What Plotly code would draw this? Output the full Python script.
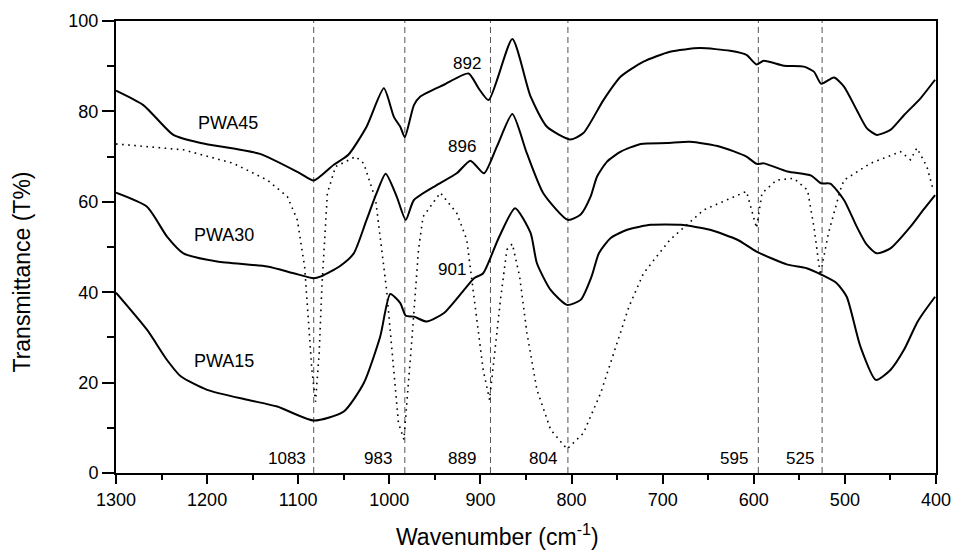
import plotly.graph_objects as go

# ---------------- data ----------------
pwa45_x = [1300,1270,1237,1207,1142,1098,1083,1061,1045,1025,1006,995,988,983,973,966,940,913,902,891,
           865,845,827,801,787,765,746,721,692,659,626,608,597,589,567,545,534,526,512,501,487,476,465,
           450,435,417,401]
pwa45_y = [84.6,81.4,74.8,73.0,70.6,66.3,64.7,68.2,70.4,76.6,85.1,78.8,76.6,74.3,81.4,83.3,85.9,88.4,85.1,82.5,
           96.0,83.3,76.6,73.8,75.2,82.5,87.7,91.0,93.2,94.0,93.4,92.5,90.4,91.2,90.1,89.9,88.8,86.1,87.5,85.5,
           80.3,76.3,74.8,75.9,79.2,82.9,87.0]

pwa30_x = [1300,1266,1244,1226,1189,1134,1105,1083,1075,1054,1039,1025,1014,1004,992,982,973,948,926,911,896,882,
           865,849,831,804,790,779,772,761,746,724,695,670,637,608,597,589,563,537,526,516,501,487,476,465,450,
           428,414,401]
pwa30_y = [62.0,58.9,52.3,48.6,46.8,45.7,44.2,43.1,43.5,45.8,48.6,56.0,61.9,66.2,61.2,56.0,60.4,63.7,66.3,69.1,66.3,72.2,
           79.4,70.7,61.9,56.0,57.2,61.2,65.6,68.9,71.1,72.8,73.0,73.3,72.2,70.0,68.4,68.5,66.7,65.8,64.1,64.0,60.4,
           54.5,50.5,48.6,49.7,54.5,58.2,61.5]

pwa15_x = [1300,1266,1244,1229,1200,1156,1123,1083,1050,1028,1010,999,988,982,973,959,940,918,907,897,
           880,862,845,838,823,805,790,778,770,757,739,713,680,648,618,597,563,542,525,509,498,483,466,450,
           435,421,414,401]
pwa15_y = [39.9,31.7,25.0,21.4,18.4,16.2,14.7,11.6,13.6,19.9,30.2,39.6,37.6,34.8,34.6,33.5,35.4,40.5,43.1,44.2,
           52.0,58.6,53.1,46.4,40.5,37.2,38.3,43.5,48.6,52.0,53.8,54.9,54.9,53.8,51.6,49.0,46.1,45.3,43.8,42.0,
           39.0,28.0,20.6,22.8,27.3,33.2,35.4,39.0]

ref_x = [1300,1226,1171,1134,1112,1101,1093,1090,1085,1081,1077,1074,1068,1059,1037,1028,1015,1003,995,990,
         984,979,975,968,963,944,926,915,904,897,890,884,878,871,865,857,849,838,823,805,787,768,750,737,
         721,692,655,608,597,591,575,556,541,534,527,518,505,501,472,439,428,421,410,403]
ref_y = [72.8,71.5,68.5,64.8,61.2,56.0,45.7,37.6,22.8,15.8,26.5,41.3,61.9,67.8,70.0,68.5,60.4,40.5,22.8,11.1,
         7.4,19.1,30.2,49.4,56.7,62.0,57.5,51.6,34.6,22.8,16.2,27.3,38.4,49.4,50.7,43.5,31.0,18.4,9.6,5.3,
         8.8,17.7,28.7,36.8,44.2,51.6,58.2,62.3,54.2,61.9,64.8,65.2,62.6,54.5,43.8,53.1,62.6,64.8,68.5,71.1,
         69.3,71.9,67.8,62.6]

band_positions = [1083, 983, 889, 804, 595, 525]
band_labels = ["1083", "983", "889", "804", "595", "525"]
band_label_x = [1112, 1012, 920, 831, 622, 549]

series_names = ["PWA45", "PWA30", "PWA15"]
series_label_x = [1177, 1182, 1182]
series_label_y = [77.4, 52.7, 24.7]

peak_labels = ["892", "896", "901"]
peak_label_x = [915, 920, 931]
peak_label_y = [90.6, 72.2, 45.0]

x_ticks = [1300, 1200, 1100, 1000, 900, 800, 700, 600, 500, 400]
y_ticks = [0, 20, 40, 60, 80, 100]

x_title = "Wavenumber (cm<sup>-1</sup>)"
y_title = "Transmittance (T%)"

# ---------------- figure ----------------
FONT = "Liberation Sans, Arial, sans-serif"
fig = go.Figure()

for bx in band_positions:
    fig.add_trace(go.Scatter(x=[bx, bx], y=[0, 100], mode="lines",
                             line=dict(color="#555555", width=1, dash="6px,4px"),
                             showlegend=False, hoverinfo="skip"))

fig.add_trace(go.Scatter(x=ref_x, y=ref_y, mode="lines",
                         line=dict(color="black", width=1.6, dash="1.6px,4.5px"),
                         showlegend=False))

for xs, ys in [(pwa45_x, pwa45_y), (pwa30_x, pwa30_y), (pwa15_x, pwa15_y)]:
    fig.add_trace(go.Scatter(x=xs, y=ys, mode="lines",
                             line=dict(color="black", width=2, shape="spline", smoothing=0.6),
                             showlegend=False))

for name, lx, ly in zip(series_names, series_label_x, series_label_y):
    fig.add_annotation(x=lx, y=ly, text=name, showarrow=False,
                       font=dict(family=FONT, size=18, color="black"))

for name, lx, ly in zip(peak_labels, peak_label_x, peak_label_y):
    fig.add_annotation(x=lx, y=ly, text=name, showarrow=False,
                       font=dict(family=FONT, size=17, color="black"))

for name, lx in zip(band_labels, band_label_x):
    fig.add_annotation(x=lx, y=3.2, text=name, showarrow=False,
                       font=dict(family=FONT, size=17, color="black"))

# axis titles as paper-positioned annotations
fig.add_annotation(xref="paper", yref="paper", x=0.465, y=-0.137, text=x_title,
                   xanchor="center", yanchor="middle",
                   showarrow=False, font=dict(family=FONT, size=23, color="black"))
fig.add_annotation(xref="paper", yref="paper", x=-0.115, y=0.445, text=y_title,
                   xanchor="center", yanchor="middle",
                   textangle=-90, showarrow=False, font=dict(family=FONT, size=23, color="black"))

fig.update_layout(
    width=954, height=553,
    margin=dict(l=116, r=18, t=21, b=80, autoexpand=False),
    paper_bgcolor="white", plot_bgcolor="white",
    font=dict(family=FONT, color="black"),
)
fig.update_xaxes(
    range=[1300, 400], tickvals=x_ticks, ticktext=[str(v) for v in x_ticks],
    automargin=False, showgrid=False, zeroline=False,
    showline=True, linewidth=2, linecolor="black", mirror=True,
    ticks="outside", ticklen=9, tickwidth=1.5, tickcolor="black",
    minor=dict(dtick=50, ticks="outside", ticklen=5, tickwidth=1.5, tickcolor="black"),
    tickfont=dict(family=FONT, size=18),
)
fig.update_yaxes(
    range=[0, 100], tickvals=y_ticks, ticktext=[str(v) for v in y_ticks],
    automargin=False, showgrid=False, zeroline=False,
    showline=True, linewidth=2, linecolor="black", mirror=True,
    ticks="outside", ticklen=12, tickwidth=1.5, tickcolor="black",
    minor=dict(dtick=10, ticks="outside", ticklen=7, tickwidth=1.5, tickcolor="black"),
    tickfont=dict(family=FONT, size=18),
)

fig.write_html("out.html")
